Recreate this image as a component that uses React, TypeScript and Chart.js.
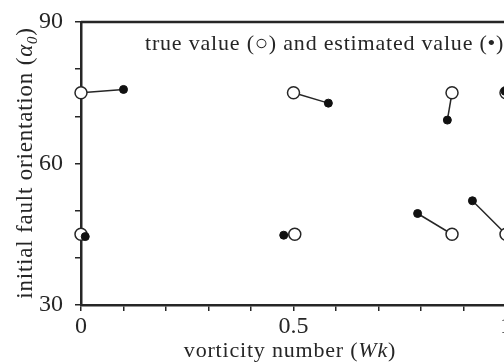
import React, { useEffect, useRef } from "react";
import { Chart, registerables } from "chart.js";

Chart.register(...registerables);

const trueWk = [0, 0.5, 0.873, 1.0, 0, 0.503, 0.873, 1.0];
const trueAlpha = [75, 75, 75, 75, 45, 45, 45, 45];
const estWk = [0.1, 0.582, 0.862, 0.998, 0.01, 0.477, 0.792, 0.921];
const estAlpha = [75.7, 72.8, 69.2, 75.3, 44.5, 44.8, 49.4, 52.1];
const xTickLabels = [0, 0.5, 1];
const yTickLabels = [30, 60, 90];
const legendText = "true value (○) and estimated value (•)";
const xTitleParts = [
  { t: "vorticity number (", italic: false },
  { t: "Wk", italic: true },
  { t: ")", italic: false },
];
const yTitleParts = [
  { t: "initial fault orientation (", italic: false },
  { t: "α", italic: true },
  { t: "0", italic: true, sub: true },
  { t: ")", italic: false },
];

const INK = "#262626";
const FONT = "'Liberation Serif', 'DejaVu Serif', serif";

function drawParts(ctx: any, parts: any[], size: number, cx: number, baseline: number, spacing: number) {
  const fontFor = (p: any) => `${p.italic ? "italic " : ""}${p.sub ? Math.round(size * 0.65) : size}px ${FONT}`;
  ctx.letterSpacing = `${spacing}px`;
  let total = 0;
  const widths = parts.map((p) => {
    ctx.font = fontFor(p);
    const w = ctx.measureText(p.t).width;
    total += w;
    return w;
  });
  let x = cx - total / 2;
  parts.forEach((p, i) => {
    ctx.font = fontFor(p);
    ctx.fillText(p.t, x, baseline + (p.sub ? size * 0.22 : 0));
    x += widths[i];
  });
  ctx.letterSpacing = "0px";
}

export default function App() {
  const ref = useRef<HTMLCanvasElement | null>(null);
  useEffect(() => {
    if (!ref.current) return;
    const datasets = trueWk.map((tx, i) => ({
      data: [
        { x: tx, y: trueAlpha[i] },
        { x: estWk[i], y: estAlpha[i] },
      ],
      showLine: true,
      borderColor: INK,
      borderWidth: 1.5,
      pointRadius: [6, 4],
      pointBorderWidth: [1.5, 1],
      pointBackgroundColor: ["#ffffff", "#111111"],
      pointBorderColor: [INK, "#111111"],
      clip: false as any,
    }));
    const overlay = {
      id: "overlay",
      afterDraw(chart: any) {
        const { ctx, chartArea } = chart;
        ctx.save();
        ctx.strokeStyle = INK;
        ctx.lineWidth = 2.5;
        ctx.beginPath();
        ctx.moveTo(chartArea.left, chartArea.top);
        ctx.lineTo(chartArea.right + 10, chartArea.top);
        ctx.stroke();
        ctx.fillStyle = INK;
        ctx.textBaseline = "alphabetic";
        ctx.textAlign = "left";
        ctx.font = `22px ${FONT}`;
        ctx.letterSpacing = "0.8px";
        ctx.fillText(legendText, 145, 50);
        ctx.letterSpacing = "0px";
        drawParts(ctx, xTitleParts, 22, 290, 357, 0.8);
        ctx.save();
        ctx.translate(32, 163);
        ctx.rotate(-Math.PI / 2);
        drawParts(ctx, yTitleParts, 23, 0, 0, 0.8);
        ctx.restore();
        ctx.restore();
      },
    };
    const chart = new Chart(ref.current, {
      type: "scatter",
      data: { datasets: datasets as any },
      plugins: [overlay],
      options: {
        animation: false,
        responsive: false,
        layout: { padding: { top: 22, right: 34, left: 0, bottom: 0 } },
        plugins: { legend: { display: false }, tooltip: { enabled: false } },
        scales: {
          x: {
            type: "linear",
            min: 0,
            max: 1,
            afterFit(scale: any) {
              scale.height = 58;
              scale.paddingLeft = 0;
              scale.paddingRight = 0;
            },
            ticks: {
              stepSize: 0.1,
              autoSkip: false,
              maxRotation: 0,
              color: INK,
              font: { family: FONT, size: 24 },
              padding: 1,
              callback: (v: any) => {
                const n = Math.round(Number(v) * 10) / 10;
                return xTickLabels.includes(n) ? String(n) : "";
              },
            },
            grid: { drawOnChartArea: false, drawTicks: true, tickLength: 6, color: INK, lineWidth: 1.5 },
            border: { display: true, color: INK, width: 2.5 },
          },
          y: {
            type: "linear",
            min: 30,
            max: 90,
            afterFit(scale: any) {
              scale.width = 81;
              scale.paddingTop = 0;
              scale.paddingBottom = 0;
            },
            ticks: {
              stepSize: 10,
              autoSkip: false,
              color: INK,
              font: { family: FONT, size: 24 },
              padding: 12,
              callback: (v: any) => (yTickLabels.includes(Number(v)) ? String(v) : ""),
            },
            grid: { drawOnChartArea: false, drawTicks: true, tickLength: 6, color: INK, lineWidth: 1.5 },
            border: { display: true, color: INK, width: 2.5 },
          },
        },
      },
    });
    return () => chart.destroy();
  }, []);
  return (
    <div style={{ position: "fixed", left: 0, top: 0, width: 504, height: 363, overflow: "hidden", background: "#fff" }}>
      <canvas ref={ref} width={540} height={363} style={{ width: 540, height: 363, display: "block" }} />
    </div>
  );
}
